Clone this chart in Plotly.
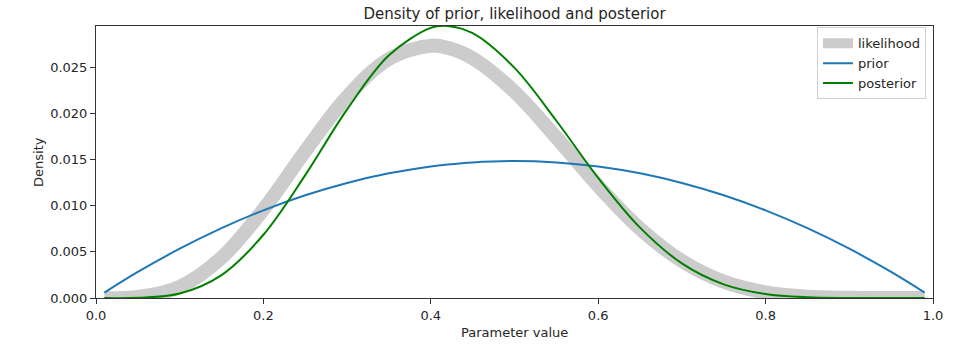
import plotly.graph_objects as go

# Parameter grid and densities of the three curves
param = [0.01, 0.05, 0.10, 0.15, 0.20, 0.25, 0.30, 0.35, 0.40, 0.42, 0.45,
         0.50, 0.55, 0.60, 0.65, 0.70, 0.75, 0.80, 0.85, 0.90, 0.95, 0.99]

prior = [0.000588, 0.002822, 0.005346, 0.007574, 0.009504, 0.011138, 0.012474,
         0.013514, 0.014256, 0.014470, 0.014702, 0.014850, 0.014702, 0.014256,
         0.013514, 0.012474, 0.011138, 0.009504, 0.007574, 0.005346, 0.002822,
         0.000588]

likelihood = [0.0, 0.000105, 0.001217, 0.004372, 0.009605, 0.015921, 0.021823,
              0.025918, 0.027352, 0.027127, 0.025994, 0.022363, 0.017401,
              0.012156, 0.007515, 0.004008, 0.001769, 0.000600, 0.000136,
              0.000015, 0.0, 0.0]

posterior = [0.0, 0.000022, 0.000489, 0.002488, 0.006858, 0.013321, 0.020450,
             0.026312, 0.029293, 0.029490, 0.028709, 0.024949, 0.019218,
             0.013019, 0.007629, 0.003756, 0.001480, 0.000429, 0.000078,
             0.000006, 0.0, 0.0]

x_ticks = [0.0, 0.2, 0.4, 0.6, 0.8, 1.0]
y_ticks = [0.000, 0.005, 0.010, 0.015, 0.020, 0.025]

FONT = "DejaVu Sans"
INK = "#262626"

# plot-area geometry in pixels
L, R, T, B = 96, 39, 26, 49
W, H = 972, 347
plot_w, plot_h = W - L - R, H - T - B

fig = go.Figure()
fig.add_trace(go.Scatter(x=param, y=likelihood, mode="lines", name="likelihood",
                         line=dict(color="#cccccc", width=14, shape="spline")))
fig.add_trace(go.Scatter(x=param, y=prior, mode="lines", name="prior",
                         line=dict(color="#1f77b4", width=2, shape="spline")))
fig.add_trace(go.Scatter(x=param, y=posterior, mode="lines", name="posterior",
                         line=dict(color="#008000", width=2, shape="spline")))

axis_common = dict(showline=True, mirror=True, linecolor="#333333", linewidth=1,
                   ticks="outside", ticklen=5, tickcolor="#333333", tickwidth=1,
                   showgrid=False, zeroline=False, automargin=False,
                   tickfont=dict(family=FONT, size=13, color=INK))

label_font = dict(family=FONT, size=13, color=INK)

fig.update_layout(
    width=W, height=H,
    margin=dict(l=L, r=R, t=T, b=B),
    paper_bgcolor="white", plot_bgcolor="white",
    font=dict(family=FONT, color=INK),
    title=dict(text="Density of prior, likelihood and posterior",
               x=(L + W - R) / 2 / W, xanchor="center",
               y=1 - 14 / H, yanchor="middle",
               font=dict(family=FONT, size=15, color=INK)),
    xaxis=dict(range=[0, 1], tickvals=x_ticks, tickformat=".1f", **axis_common),
    yaxis=dict(range=[0, max(posterior)], tickvals=y_ticks, tickformat=".3f",
               **axis_common),
    legend=dict(x=0.9916, y=0.995, xanchor="right", yanchor="top",
                bgcolor="rgba(255,255,255,0.8)", bordercolor="#d0d0d0",
                borderwidth=1, font=dict(family=FONT, size=13, color=INK),
                tracegroupgap=0, itemwidth=30),
    showlegend=True,
    annotations=[
        dict(text="Parameter value", xref="paper", yref="paper",
             x=0.5, y=-(332 - (H - B)) / plot_h, xanchor="center",
             yanchor="middle", showarrow=False, font=label_font),
        dict(text="Density", xref="paper", yref="paper",
             x=(38 - L) / plot_w, y=0.5, xanchor="center", yanchor="middle",
             textangle=-90, showarrow=False, font=label_font),
    ],
)

fig.write_html("out.html")
